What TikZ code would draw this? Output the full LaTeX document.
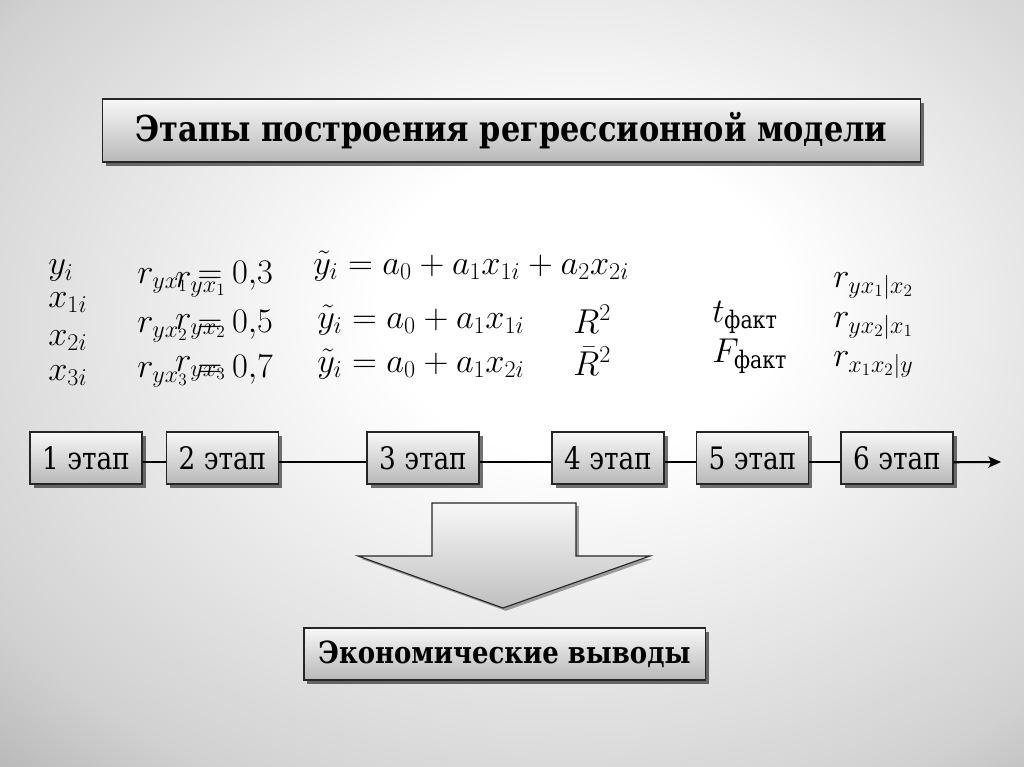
\RequirePackage{fix-cm}
\documentclass[tikz,border=0pt]{standalone}
\usepackage{amsmath}
\usepackage{fontspec}
\setmainfont{DejaVu Serif}[FakeStretch=0.85]
\usetikzlibrary{shadows,arrows.meta}
\pgfdeclareradialshading{bgshade}{\pgfpoint{4bp}{6bp}}{%
  color(0bp)=(white); color(10bp)=(white); color(33bp)=(black!18); color(50bp)=(black!44); color(80bp)=(black!44)}
\tikzset{
  boxbase/.style={draw=black!85, line width=0.8pt, top color=black!3, bottom color=black!28,
    drop shadow={shadow xshift=2.5pt, shadow yshift=-2.5pt, opacity=0.55, fill=black}},
  titlebox/.style={boxbase, minimum width=20.425cm, minimum height=1.575cm,
    font=\fontsize{25.4}{28}\selectfont\bfseries},
  stagebox/.style={boxbase, minimum width=2.8cm, minimum height=1.3cm,
    font=\fontsize{22}{25}\selectfont},
  outbox/.style={boxbase, minimum width=10.025cm, minimum height=1.3cm,
    font=\fontsize{21.7}{24}\selectfont\bfseries},
  conn/.style={line width=1.5pt, black},
  frm/.style={anchor=base west, inner sep=0pt, font=\fontsize{24.5}{28}\selectfont}
}
\begin{document}
\begin{tikzpicture}[x=0.025cm, y=-0.025cm]
\useasboundingbox (0,0) rectangle (1024,767);
\shade[shading=bgshade] (0,0) rectangle (1024,767);

% title
\node[titlebox] (title) at (511.5,130.5) {Этапы построения регрессионной модели};

% column 1
\node[frm] (c1a) at (48,275) {$y_i$};
\node[frm] (c1b) at (48,307) {$x_{1i}$};
\node[frm] (c1c) at (48,345) {$x_{2i}$};
\node[frm] (c1d) at (48,380) {$x_{3i}$};

% column 2 (with overlapping copies as printed)
\node[frm] (c2a) at (137,283) {$r_{yx_1}=0{,}3$};
\node[frm] (c2ao) at (175,287) {$r_{yx_1}$};
\node[frm] (c2b) at (137,332) {$r_{yx_2}=0{,}5$};
\node[frm] (c2bo) at (175,329) {$r_{yx_2}$};
\node[frm] (c2c) at (137,377) {$r_{yx_3}=0{,}7$};
\node[frm] (c2co) at (175,371) {$r_{yx_3}$};

% column 3
\node[frm] (c3a) at (313,274) {$\tilde{y}_i=a_0+a_1x_{1i}+a_2x_{2i}$};
\node[frm] (c3b) at (317,328) {$\tilde{y}_i=a_0+a_1x_{1i}$};
\node[frm] (c3c) at (317,372) {$\tilde{y}_i=a_0+a_1x_{2i}$};
\node[frm] (c4a) at (573,333) {$R^2$};
\node[frm] (c4b) at (573,375) {$\bar{R}^2$};

% column 5
\node[frm] (c5a) at (712,322) {$t_{\text{факт}}$};
\node[frm] (c5b) at (712,362) {$F_{\text{факт}}$};

% column 6
\node[frm] (c6a) at (833,287) {$r_{yx_1|x_2}$};
\node[frm] (c6b) at (833,327) {$r_{yx_2|x_1}$};
\node[frm] (c6c) at (833,366) {$r_{x_1x_2|y}$};

% stages
\node[stagebox] (b1) at (86,458) {1 этап};
\node[stagebox] (b2) at (222.5,458) {2 этап};
\node[stagebox] (b3) at (423,458) {3 этап};
\node[stagebox] (b4) at (608,458) {4 этап};
\node[stagebox] (b5) at (752.5,458) {5 этап};
\node[stagebox] (b6) at (897,458) {6 этап};
\coordinate (end) at (1001,462);

\draw[conn] ([yshift=-3pt]b1.east) -- ([yshift=-3pt]b2.west);
\draw[conn] ([yshift=-3pt]b2.east) -- ([yshift=-3pt]b3.west);
\draw[conn] ([yshift=-3pt]b3.east) -- ([yshift=-3pt]b4.west);
\draw[conn] ([yshift=-3pt]b4.east) -- ([yshift=-3pt]b5.west);
\draw[conn] ([yshift=-3pt]b5.east) -- ([yshift=-3pt]b6.west);
\draw[conn, -{Stealth[length=9pt, width=8pt, inset=2pt]}] ([yshift=-3pt]b6.east) -- (end);

% big arrow
\shade[draw=black!85, line width=0.8pt, top color=black!3, bottom color=black!25,
  drop shadow={shadow xshift=2pt, shadow yshift=-2pt, opacity=0.35, fill=black}]
  (432,503) -- (576,503) -- (576,556) -- (650,556) -- (503,608) -- (358,556) -- (432,556) -- cycle;

% conclusions
\node[outbox] (out) at (504.5,654) {Экономические выводы};
\end{tikzpicture}
\end{document}
